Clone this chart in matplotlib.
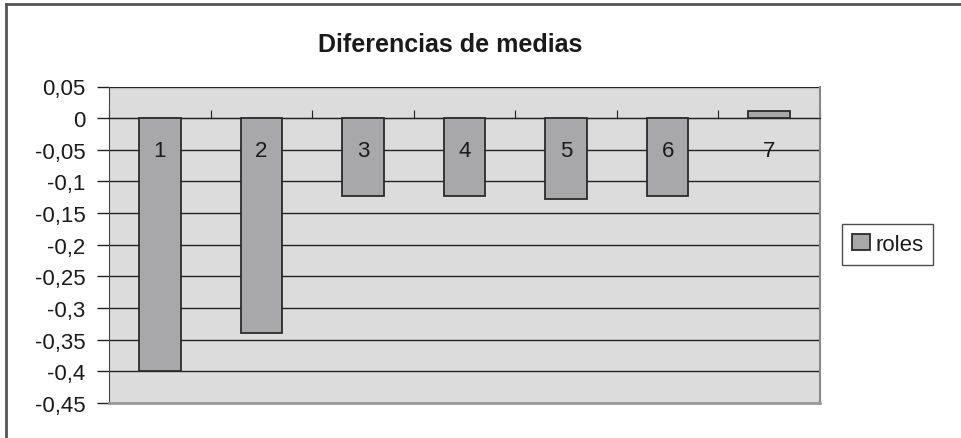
import matplotlib
matplotlib.use("Agg")
import matplotlib.pyplot as plt
from matplotlib.ticker import FixedLocator, FuncFormatter, NullFormatter
from matplotlib.lines import Line2D

plt.rcParams['font.family'] = ['Liberation Sans', 'DejaVu Sans']

categories = ["1", "2", "3", "4", "5", "6", "7"]
values = [-0.40, -0.34, -0.123, -0.123, -0.128, -0.123, 0.011]
series_name = "roles"
title = "Diferencias de medias"
yticks = [0.05, 0, -0.05, -0.1, -0.15, -0.2, -0.25, -0.3, -0.35, -0.4, -0.45]

fig = plt.figure(figsize=(9.61, 4.39), dpi=100)
ax = fig.add_axes([109/961, 1-404/439, (820-109)/961, (404-87.5)/439])
ax.set_facecolor('#dcdcdd')

x = list(range(len(categories)))
ax.bar(x, values, width=0.41, color='#a8a8aa', edgecolor='#2a2a2a', linewidth=1.3,
       zorder=3, label=series_name)

ax.set_xlim(-0.5, len(categories) - 0.5)
ax.set_ylim(-0.45, 0.05)
ax.set_yticks(yticks)
ax.yaxis.set_major_formatter(FuncFormatter(lambda v, p: ('%g' % round(v, 2)).replace('.', ',')))
ax.yaxis.grid(True, color='#222222', linewidth=1.0, zorder=1)
ax.set_axisbelow(True)
ax.tick_params(axis='y', length=9, width=1, color='#222222', labelsize=16, pad=8,
               labelcolor='#1a1a1a')

ax.spines['bottom'].set_position(('data', 0))
ax.spines['bottom'].set_color('#222222')
ax.spines['left'].set_color('#444444')
ax.spines['top'].set_visible(False)
ax.spines['right'].set_color('#888888')
ax.spines['right'].set_linewidth(1.5)

ax.xaxis.set_major_locator(FixedLocator([i + 0.5 for i in range(-1, len(categories))]))
ax.xaxis.set_major_formatter(NullFormatter())
ax.tick_params(axis='x', which='major', direction='in', length=6, color='#222222')

for xi, lab in zip(x, categories):
    ax.annotate(lab, xy=(xi, 0), xytext=(0, -23), textcoords='offset points',
                ha='center', va='center', fontsize=16, color='#1a1a1a', zorder=6)

# bottom edge of plot area
ax.plot([0, 1], [0, 0], transform=ax.transAxes, color='#999999', lw=2, clip_on=False, zorder=4)

fig.text(450/961, 1-45/439, title, ha='center', va='center',
         fontsize=18, fontweight='bold', color='#1a1a1a')

leg = fig.legend(loc='center left', bbox_to_anchor=(842/961, 1-245.5/439), frameon=True,
                 fontsize=16, handlelength=0.8, handleheight=0.75, handletextpad=0.25,
                 borderpad=0.45, borderaxespad=0, fancybox=False, edgecolor='#222222')
leg.get_frame().set_linewidth(1.0)
for t in leg.get_texts():
    t.set_color('#1a1a1a')

# chart outer border (top and left)
fig.add_artist(Line2D([6/961, 1], [1-5/439, 1-5/439], transform=fig.transFigure, color='#555555', lw=2))
fig.add_artist(Line2D([6/961, 6/961], [0, 1-5/439], transform=fig.transFigure, color='#555555', lw=2))

fig.savefig('out.png', dpi=100)
